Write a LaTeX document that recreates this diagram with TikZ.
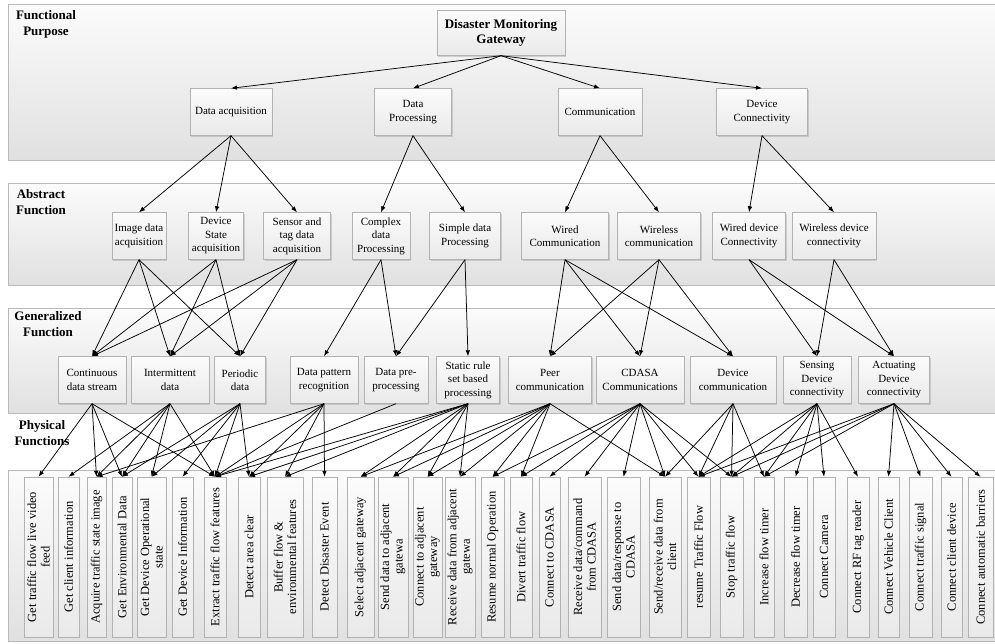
\documentclass[tikz,border=0pt]{standalone}
\usepackage{fontspec}
\setmainfont{Liberation Serif}
\usetikzlibrary{arrows.meta,shadows}

\tikzset{
  band/.style={draw=gray!55, top color=gray!3, bottom color=gray!24},
  layer/.style={font=\fontsize{13}{16}\selectfont\bfseries, align=center},
  box/.style={draw=gray!60, top color=gray!3, bottom color=gray!17,
    drop shadow={opacity=0.3, shadow xshift=1.2pt, shadow yshift=-1.2pt},
    minimum height=47, inner sep=2pt, align=center, font=\fontsize{11}{13.5}\selectfont},
  phys/.style={box, rotate=90, minimum width=160, font=\fontsize{12.5}{13.5}\selectfont},
  arr/.style={-{Latex[length=6pt,width=4.5pt]}, line width=0.75pt},
}

\begin{document}
\begin{tikzpicture}[x=1pt,y=-1pt]
\useasboundingbox[fill=white] (0,0) rectangle (995,643);

\path[band] (8,4) rectangle (1000,160);
\path[band] (8,183) rectangle (1000,285);
\path[band] (8,308) rectangle (1000,413);
\path[band] (8,470) rectangle (1000,641);

\node[layer] (lfp) at (46,24) {Functional\\Purpose};
\node[layer] (laf) at (41,202) {Abstract\\Function};
\node[layer] (lgf) at (48,324) {Generalized\\Function};
\node[layer] (lpf) at (42,433) {Physical\\Functions};

\node[box, minimum width=128, minimum height=45, font=\fontsize{13}{15.5}\selectfont\bfseries] (gateway) at (501,33) {Disaster Monitoring\\Gateway};

\node[box, minimum width=82] (dataacq) at (231,112) {Data acquisition};
\node[box, minimum width=77] (dataproc) at (413,112) {Data\\Processing};
\node[box, minimum width=84] (comm) at (600,112) {Communication};
\node[box, minimum width=91] (devconn) at (762,112) {Device\\Connectivity};

\node[box, minimum width=54] (imgacq) at (139,236) {Image data\\acquisition};
\node[box, minimum width=55] (stateacq) at (216,236) {Device\\State\\acquisition};
\node[box, minimum width=67] (sensacq) at (297,236) {Sensor and\\tag data\\acquisition};
\node[box, minimum width=58] (complex) at (381,236) {Complex\\data\\Processing};
\node[box, minimum width=71] (simple) at (465,236) {Simple data\\Processing};
\node[box, minimum width=87] (wiredcom) at (565,236) {Wired\\Communication};
\node[box, minimum width=83] (wirelesscom) at (659,236) {Wireless\\communication};
\node[box, minimum width=73] (wireddev) at (749,236) {Wired device\\Connectivity};
\node[box, minimum width=84] (wirelessdev) at (834,236) {Wireless device\\connectivity};

\node[box, minimum width=68] (cont) at (92,380) {Continuous\\data stream};
\node[box, minimum width=78] (inter) at (170,380) {Intermittent\\data};
\node[box, minimum width=51] (peri) at (240,380) {Periodic\\data};
\node[box, minimum width=68] (pattern) at (324,380) {Data pattern\\recognition};
\node[box, minimum width=64] (prep) at (396,380) {Data pre-\\processing};
\node[box, minimum width=63] (static) at (468,380) {Static rule\\set based\\processing};
\node[box, minimum width=83] (peer) at (550,380) {Peer\\communication};
\node[box, minimum width=88] (cdasa) at (640,380) {CDASA\\Communications};
\node[box, minimum width=86] (devcom) at (733,380) {Device\\communication};
\node[box, minimum width=68] (sensing) at (817,380) {Sensing\\Device\\connectivity};
\node[box, minimum width=71] (actuating) at (894,380) {Actuating\\Device\\connectivity};

\foreach \i/\x/\w/\t in {
  1/38.5/29/{Get traffic flow live video\\feed},
  2/68.5/21/{Get client information},
  3/96.5/19/{Acquire traffic state image},
  4/122/20/{Get Environmental Data},
  5/151.5/29/{Get Device Operational\\state},
  6/182.5/21/{Get Device Information},
  7/215/22/{Extract traffic flow features},
  8/249/22/{Detect area clear},
  9/285/36/{Buffer flow \&\\environmental features},
  10/324.5/25/{Detect Disaster Event},
  11/360.5/27/{Select adjacent gateway},
  12/393/30/{Send data to adjacent\\gatewa},
  13/427.5/27/{Connect to adjacent\\gateway},
  14/460/30/{Receive data from adjacent\\gatewa},
  15/492.5/23/{Resume normal Operation},
  16/521/22/{Divert traffic flow},
  17/549.5/21/{Connect to CDASA},
  18/584.5/33/{Receive data/command\\from CDASA},
  19/623.5/33/{Send data/response to\\CDASA},
  20/665/32/{Send/receive data from\\client},
  21/698.5/23/{resume Traffic Flow},
  22/731.5/23/{Stop traffic flow},
  23/764/20/{Increase flow timer},
  24/795.5/23/{Decrease flow timer},
  25/824/22/{Connect Camera},
  26/858/22/{Connect RF tag reader},
  27/888.5/21/{Connect Vehicle Client},
  28/920.5/23/{Connect traffic signal},
  29/951.5/21/{Connect client device},
  30/980.5/25/{Connect automatic barriers}}
  \node[phys, minimum height=\w] (p\i) at (\x,557) {\t};

\foreach \a/\b in {gateway/dataacq, gateway/dataproc, gateway/comm, gateway/devconn,
  dataacq/imgacq, dataacq/stateacq, dataacq/sensacq, dataproc/complex, dataproc/simple,
  comm/wiredcom, comm/wirelesscom, devconn/wireddev, devconn/wirelessdev,
  imgacq/cont, imgacq/inter, imgacq/peri, stateacq/cont, stateacq/inter, stateacq/peri,
  sensacq/cont, sensacq/inter, sensacq/peri, complex/pattern, complex/prep,
  simple/prep, simple/static, wiredcom/peer, wiredcom/cdasa, wiredcom/devcom,
  wirelesscom/peer, wirelesscom/cdasa, wirelesscom/devcom, wireddev/sensing,
  wireddev/actuating, wirelessdev/sensing, wirelessdev/actuating}
  \draw[arr] (\a.south) -- (\b.north);

\foreach \a/\b in {cont/1, cont/3, cont/4, cont/7, inter/2, inter/3, inter/4, inter/5, inter/7,
  peri/4, peri/5, peri/6, peri/7, peri/8, pattern/3, pattern/7, pattern/8, pattern/9, pattern/10,
  prep/7, static/7, static/8, static/9, static/11, static/12, static/13, static/14,
  peer/11, peer/12, peer/13, peer/14, peer/15, peer/16, peer/20,
  cdasa/15, cdasa/16, cdasa/17, cdasa/18, cdasa/19, cdasa/20, cdasa/21, cdasa/22,
  devcom/20, devcom/21, devcom/22, devcom/23,
  sensing/21, sensing/22, sensing/23, sensing/24, sensing/25, sensing/26,
  actuating/21, actuating/22, actuating/23, actuating/27, actuating/28, actuating/29, actuating/30}
  \draw[arr] (\a.south) -- (p\b.east);
\end{tikzpicture}
\end{document}
